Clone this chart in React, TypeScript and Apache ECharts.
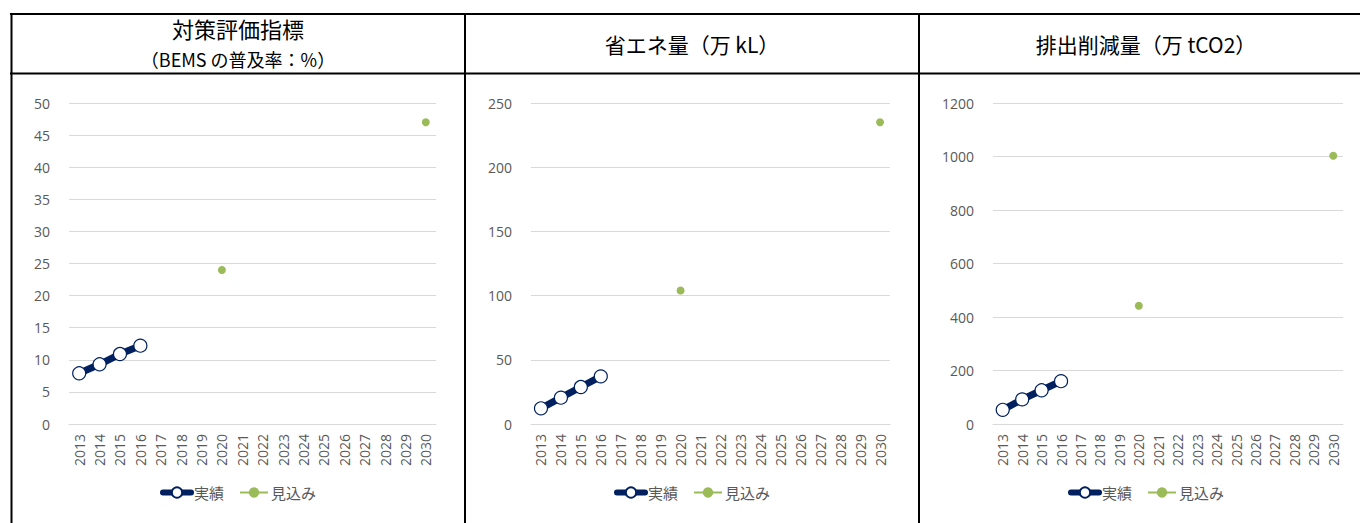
import React, { useEffect, useRef } from "react";
import * as echarts from "echarts";

const years = ["2013","2014","2015","2016","2017","2018","2019","2020","2021","2022","2023","2024","2025","2026","2027","2028","2029","2030"];

const bemsActual = [7.9, 9.3, 10.9, 12.2, null, null, null, null, null, null, null, null, null, null, null, null, null, null];
const bemsForecast = [null, null, null, null, null, null, null, 24, null, null, null, null, null, null, null, null, null, 47];

const energyActual = [12.2, 20.5, 28.8, 37.1, null, null, null, null, null, null, null, null, null, null, null, null, null, null];
const energyForecast = [null, null, null, null, null, null, null, 104, null, null, null, null, null, null, null, null, null, 235];

const co2Actual = [53, 92, 126, 160, null, null, null, null, null, null, null, null, null, null, null, null, null, null];
const co2Forecast = [null, null, null, null, null, null, null, 442, null, null, null, null, null, null, null, null, null, 1003];

const yMax = [50, 250, 1200];
const yInterval = [5, 50, 200];

const titleLine1 = ["対策評価指標", "省エネ量（万 kL）", "排出削減量（万 tCO2）"];
const titleLine2 = ["（BEMS の普及率：%）", "", ""];

const seriesNames = ["実績", "見込み"];

const NAVY = "#002060";
const GREEN = "#9BBB59";
const LABEL = "#595959";
const FONT = "'Open Sans', 'Noto Sans CJK JP', sans-serif";
const TITLE_FONT = "'Noto Sans CJK JP', sans-serif";

export default function App() {
  const ref = useRef<HTMLDivElement>(null);

  useEffect(() => {
    if (!ref.current) return;
    const chart = echarts.init(ref.current, undefined, { renderer: "svg" });

    const grids = [
      { left: 69, top: 103, width: 367, height: 321 },
      { left: 531, top: 103, width: 359, height: 321 },
      { left: 993, top: 103, width: 350, height: 321 },
    ];
    const panelCenters = [238, 692, 1146];
    const actuals = [bemsActual, energyActual, co2Actual];
    const forecasts = [bemsForecast, energyForecast, co2Forecast];

    const xAxis = grids.map((_, i) => ({
      type: "category",
      gridIndex: i,
      data: years,
      boundaryGap: true,
      axisLine: { show: true, lineStyle: { color: "#D9D9D9", width: 1 } },
      axisTick: { show: false },
      axisLabel: { rotate: 90, color: LABEL, fontSize: 14, fontFamily: FONT, margin: 10, interval: 0 },
    }));
    const yAxis = grids.map((_, i) => ({
      type: "value",
      gridIndex: i,
      min: 0,
      max: yMax[i],
      interval: yInterval[i],
      axisLine: { show: false },
      axisTick: { show: false },
      splitLine: { show: true, lineStyle: { color: "#D9D9D9", width: 1 } },
      axisLabel: {
        color: LABEL,
        fontSize: 14,
        fontFamily: FONT,
        margin: 19,
        formatter: (v: number) => String(v),
      },
    }));

    const series: any[] = [];
    grids.forEach((_, i) => {
      series.push({
        name: seriesNames[0],
        type: "line",
        xAxisIndex: i,
        yAxisIndex: i,
        data: actuals[i],
        symbol: "circle",
        symbolSize: 13,
        showAllSymbol: true,
        connectNulls: false,
        lineStyle: { color: NAVY, width: 7 },
        itemStyle: { color: "#FFFFFF", borderColor: NAVY, borderWidth: 1.2 },
        z: 3,
      });
      series.push({
        name: seriesNames[1],
        type: "line",
        xAxisIndex: i,
        yAxisIndex: i,
        data: forecasts[i],
        symbol: "circle",
        symbolSize: 8,
        showAllSymbol: true,
        connectNulls: false,
        lineStyle: { color: GREEN, width: 2 },
        itemStyle: { color: GREEN, borderWidth: 0 },
        z: 2,
      });
    });

    const legend = panelCenters.map((c) => ({
      data: [
        { name: seriesNames[0], lineStyle: { width: 6, color: NAVY, cap: "round" } },
        { name: seriesNames[1], lineStyle: { width: 2, color: GREEN } },
      ],
      left: c - 83,
      top: 480,
      itemWidth: 28,
      itemHeight: 13,
      itemGap: 15,
      textStyle: { color: LABEL, fontSize: 15, fontFamily: TITLE_FONT, padding: [0, 0, 0, -2] },
    }));

    const lines: any[] = [];
    const borderStyle = { stroke: "#000000", lineWidth: 2 };
    lines.push({ type: "line", shape: { x1: 10, y1: 14, x2: 1360, y2: 14 }, style: borderStyle });
    lines.push({ type: "line", shape: { x1: 10, y1: 73.5, x2: 1360, y2: 73.5 }, style: borderStyle });
    [11.5, 465, 919].forEach((x) => {
      lines.push({ type: "line", shape: { x1: x, y1: 13, x2: x, y2: 523 }, style: borderStyle });
    });

    const texts: any[] = [];
    panelCenters.forEach((c, i) => {
      if (titleLine2[i]) {
        texts.push({
          type: "text",
          x: c,
          y: 28,
          style: { text: titleLine1[i], fill: "#000", font: `22px ${TITLE_FONT}`, textAlign: "center", textVerticalAlign: "middle" },
        });
        texts.push({
          type: "text",
          x: c,
          y: 59,
          style: { text: titleLine2[i], fill: "#000", font: `18px ${TITLE_FONT}`, textAlign: "center", textVerticalAlign: "middle" },
        });
      } else {
        texts.push({
          type: "text",
          x: c,
          y: 44,
          style: { text: titleLine1[i], fill: "#000", font: `21px ${TITLE_FONT}`, textAlign: "center", textVerticalAlign: "middle" },
        });
      }
    });

    chart.setOption({
      animation: false,
      backgroundColor: "#FFFFFF",
      grid: grids,
      xAxis,
      yAxis,
      series,
      legend,
      graphic: [...lines, ...texts],
    });

    return () => chart.dispose();
  }, []);

  return (
    <div
      ref={ref}
      style={{ position: "fixed", left: 0, top: 0, width: 1360, height: 523 }}
    />
  );
}
